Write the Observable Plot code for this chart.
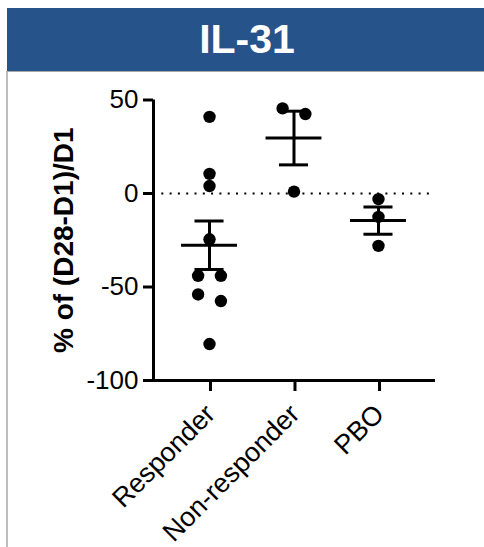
<!DOCTYPE html>
<html>
<head>
<meta charset="utf-8">
<script src="https://cdn.jsdelivr.net/npm/d3@7"></script>
<script src="https://cdn.jsdelivr.net/npm/@observablehq/plot@0.6"></script>
<style>
  html, body { margin: 0; padding: 0; background: #fff; }
  body { width: 484px; height: 547px; position: relative; overflow: hidden; font-family: "Liberation Sans", Arial, sans-serif; }
  #header { position: absolute; left: 7px; top: 8px; width: 480px; height: 63px; background: #25538a; color: #fff;
            font-weight: bold; font-size: 41px; line-height: 63px; text-align: center; z-index: 2; }
  #frame { position: absolute; left: 6px; top: 71px; width: 490px; height: 490px; border-left: 2px solid #bdbdbd; border-top: 1px solid #a8a8a8; box-sizing: border-box; }
  #chart { position: absolute; left: 0; top: 72px; z-index: 1; }
</style>
</head>
<body>
<div id="header">IL-31</div>
<div id="frame"></div>
<div id="chart"></div>
<script>
const title = "IL-31";
const yLabel = "% of (D28-D1)/D1";
const categories = ["Responder", "Non-responder", "PBO"];
const responder = [41, 10.5, 4, -24.5, -44, -44, -54, -57.5, -80.5];
const nonResponder = [45.5, 42.5, 1];
const pbo = [-3, -12.5, -28];
const yTicks = [-100, -50, 0, 50];

const groups = [responder, nonResponder, pbo];

// Build points, spreading overlapping values side by side (scatter-dot layout)
const points = [];
groups.forEach((vals, gi) => {
  const sorted = vals.slice().sort((a, b) => b - a);
  const clusters = [];
  sorted.forEach(v => {
    const last = clusters[clusters.length - 1];
    if (last && Math.abs(last[last.length - 1] - v) < 6) last.push(v);
    else clusters.push([v]);
  });
  clusters.forEach(c => c.forEach((v, k) => {
    points.push({group: categories[gi], gi, value: v, xpos: gi + (k - (c.length - 1) / 2) * 0.27});
  }));
});

const stats = groups.map((vals, gi) => {
  const m = d3.mean(vals);
  const sem = d3.deviation(vals) / Math.sqrt(vals.length);
  return {gi, mean: m, lo: m - sem, hi: m + sem};
});

const xDomain = [-0.663, 2.675];

const chart = Plot.plot({
  width: 484,
  height: 475,
  marginLeft: 153,
  marginRight: 49,
  marginTop: 27.5,
  marginBottom: 167,
  style: {fontFamily: "'Liberation Sans', Arial, sans-serif", background: "transparent", color: "black", overflow: "visible"},
  x: {domain: xDomain, axis: null},
  y: {domain: [-100, 50], axis: null},
  marks: [
    Plot.ruleY([0], {x1: xDomain[0], x2: 2.64, strokeDasharray: "2,6.3", strokeWidth: 2, stroke: "black"}),
    Plot.axisY({ticks: yTicks, tickFormat: d => String(d), tickSize: 10, tickPadding: 5, fontSize: 26, strokeWidth: 3, label: null}),
    Plot.axisX({ticks: [0, 1, 2], tickFormat: i => categories[i], tickRotate: -45, tickSize: 11, tickPadding: 18, dx: 1, fontSize: 27, strokeWidth: 3, label: null}),
    Plot.ruleX([xDomain[0]], {y1: -100, y2: 50, strokeWidth: 3, stroke: "black"}),
    Plot.ruleY([-100], {strokeWidth: 3, stroke: "black"}),
    Plot.dot(points, {x: "xpos", y: "value", r: 6.2, fill: "black"}),
    Plot.ruleY(stats, {y: "mean", x1: d => d.gi - 0.331, x2: d => d.gi + 0.331, strokeWidth: 3, stroke: "black"}),
    Plot.ruleY(stats, {y: "hi", x1: d => d.gi - 0.172, x2: d => d.gi + 0.172, strokeWidth: 3, stroke: "black"}),
    Plot.ruleY(stats, {y: "lo", x1: d => d.gi - 0.172, x2: d => d.gi + 0.172, strokeWidth: 3, stroke: "black"}),
    Plot.ruleX(stats, {x: "gi", y1: "lo", y2: "hi", strokeWidth: 3, stroke: "black"}),
    Plot.text([yLabel], {text: d => d, frameAnchor: "left", textAnchor: "middle", rotate: -90, dx: -89, fontSize: 28, fontWeight: "bold", fill: "black"})
  ]
});
document.getElementById("chart").appendChild(chart);
</script>
</body>
</html>
